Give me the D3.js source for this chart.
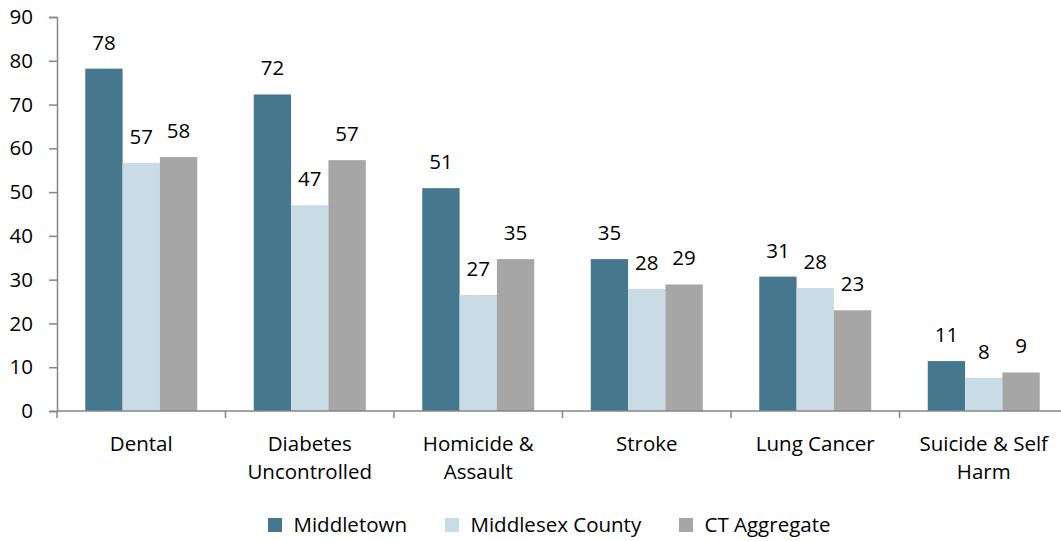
<!DOCTYPE html>
<html>
<head>
<meta charset="utf-8">
<script src="https://cdn.jsdelivr.net/npm/d3@7"></script>
<style>
  html, body { margin: 0; padding: 0; background: #fff; }
  svg { display: block; font-family: 'Open Sans', sans-serif; }
</style>
</head>
<body>
<svg id="chart" width="1061" height="541"></svg>
<script>
const categories = ['Dental', 'Diabetes\nUncontrolled', 'Homicide &\nAssault', 'Stroke', 'Lung Cancer', 'Suicide & Self\nHarm'];
const series = ['Middletown', 'Middlesex County', 'CT Aggregate'];
const middletown = [78.2, 72.3, 50.9, 34.7, 30.7, 11.4];
const middlesexCounty = [56.7, 47.0, 26.5, 27.9, 28.1, 7.6];
const ctAggregate = [58.0, 57.3, 34.7, 28.9, 23.0, 8.8];
const yTicks = [0, 10, 20, 30, 40, 50, 60, 70, 80, 90];
const colors = ['#45788f', '#c9dce5', '#a6a6a6'];

const values = [middletown, middlesexCounty, ctAggregate];
const data = categories.map((c, i) => ({
  category: c,
  bars: series.map((s, j) => ({ key: s, value: values[j][i] }))
}));

const fontSize = '20.5px';
const margin = { top: 17, left: 57, bottom: 130, right: -7 };
const svg = d3.select('#chart');
const width = 1061 - margin.left - margin.right;
const height = 541 - margin.top - margin.bottom;

const g = svg.append('g').attr('transform', `translate(${margin.left},${margin.top})`);

const x0 = d3.scaleBand().domain(categories).range([0, width]).padding(0);
const x1 = d3.scaleBand().domain(series).range([0, x0.bandwidth()]).paddingInner(0).paddingOuter(0.757);
const y = d3.scaleLinear().domain([0, 90]).range([height, 0]);
const color = d3.scaleOrdinal().domain(series).range(colors);

// bars
const groups = g.append('g').selectAll('g')
  .data(data)
  .enter().append('g')
  .attr('transform', d => `translate(${x0(d.category)},0)`);

groups.selectAll('rect')
  .data(d => d.bars)
  .enter().append('rect')
  .attr('x', d => x1(d.key))
  .attr('y', d => y(d.value))
  .attr('width', x1.bandwidth())
  .attr('height', d => height - y(d.value))
  .attr('fill', d => color(d.key));

// value labels
groups.selectAll('text')
  .data(d => d.bars)
  .enter().append('text')
  .attr('x', d => x1(d.key) + x1.bandwidth() / 2)
  .attr('y', d => y(d.value) - 19)
  .attr('text-anchor', 'middle')
  .style('font-size', fontSize)
  .style('fill', '#000')
  .text(d => Math.round(d.value));

// y axis
const yAxis = g.append('g')
  .call(d3.axisLeft(y).tickValues(yTicks).tickSize(8).tickPadding(16));
yAxis.select('.domain').attr('stroke', '#868686').attr('stroke-width', 1.5);
yAxis.selectAll('.tick line').attr('stroke', '#868686').attr('stroke-width', 1.5);
yAxis.selectAll('.tick text').style('font-size', fontSize).style('font-family', "'Open Sans', sans-serif").attr('fill', '#000');

// x axis
const xAxis = g.append('g').attr('transform', `translate(0,${height})`);
xAxis.append('line').attr('x1', 0).attr('x2', width).attr('stroke', '#868686').attr('stroke-width', 1.5);
xAxis.selectAll('.xtick')
  .data(d3.range(categories.length + 1))
  .enter().append('line')
  .attr('x1', i => i < categories.length ? x0(categories[i]) : width)
  .attr('x2', i => i < categories.length ? x0(categories[i]) : width)
  .attr('y1', 0).attr('y2', 7)
  .attr('stroke', '#868686').attr('stroke-width', 1.5);

const catLabels = xAxis.selectAll('.cat')
  .data(categories)
  .enter().append('text')
  .attr('text-anchor', 'middle')
  .attr('transform', d => `translate(${x0(d) + x0.bandwidth() / 2},39.5)`)
  .style('font-size', fontSize)
  .style('fill', '#000');
catLabels.selectAll('tspan')
  .data(d => d.split('\n'))
  .enter().append('tspan')
  .attr('x', 0)
  .attr('dy', (d, i) => i === 0 ? 0 : 28)
  .text(d => d);

// legend
const legendX = [268, 445, 679];
const legend = svg.append('g').attr('transform', 'translate(0,532)');
const items = legend.selectAll('g')
  .data(series)
  .enter().append('g')
  .attr('transform', (d, i) => `translate(${legendX[i]},0)`);
items.append('rect')
  .attr('x', 0).attr('y', -14).attr('width', 14).attr('height', 14)
  .attr('fill', d => color(d));
items.append('text')
  .attr('x', 25.5).attr('y', 0)
  .style('font-size', fontSize)
  .style('fill', '#000')
  .text(d => d);
</script>
</body>
</html>
